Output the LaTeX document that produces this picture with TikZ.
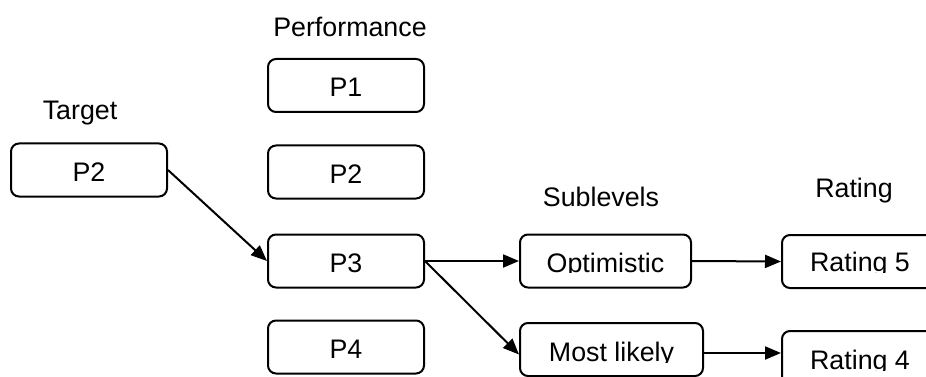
\documentclass[tikz,border=0pt]{standalone}
\usepackage{fontspec}
\setmainfont{Liberation Sans}
\usetikzlibrary{arrows.meta}
\begin{document}
\begin{tikzpicture}[x=1pt,y=-1pt,
  box/.style={draw,line width=2pt,rounded corners=8pt,minimum width=156pt,minimum height=53pt,inner sep=0pt},
  txt/.style={anchor=base,inner sep=0pt,font=\fontsize{26.8}{31}\selectfont},
  conn/.style={line width=2pt,-{Triangle[length=16pt,width=13pt]}}]
\useasboundingbox (0,0) rectangle (926,377);
\clip (0,0) rectangle (926,377);
% labels
\node[txt] (lt) at (80,120) {Target};
\node[txt] (lp) at (350,37) {Performance};
\node[txt] (ls) at (601,206) {Sublevels};
\node[txt] (lr) at (854,197) {Rating};
% boxes
\node[box] (tP2) at (89,170) {};
\node[box] (P1) at (346,85.5) {};
\node[box] (P2) at (346,172) {};
\node[box] (P3) at (346,261) {};
\node[box] (P4) at (346,347) {};
\node[box,minimum width=171pt] (Opt) at (605.5,261) {};
\node[box,minimum width=183pt] (ML) at (611.5,349.5) {};
\node[box] (R5) at (860,261.5) {};
\node[box] (R4) at (860,357.5) {};
% texts
\node[txt] (ttP2) at ([yshift=-39pt]tP2.north) {P2};
\node[txt] (tP1) at ([yshift=-39pt]P1.north) {P1};
\node[txt] (tPP2) at ([yshift=-39pt]P2.north) {P2};
\node[txt] (tP3) at ([yshift=-39pt]P3.north) {P3};
\node[txt] (tP4) at ([yshift=-39pt]P4.north) {P4};
\begin{scope}
\clip (500,200) rectangle (926,272.5);
\node[txt] (tOpt) at ([yshift=-39pt]Opt.north) {Optimistic};
\node[txt] (tR5) at ([yshift=-37pt]R5.north) {Rating 5};
\end{scope}
\begin{scope}
\clip (500,300) rectangle (760,362.5);
\node[txt] (tML) at ([yshift=-39pt]ML.north) {Most likely};
\end{scope}
\begin{scope}
\clip (760,300) rectangle (926,370.5);
\node[txt] (tR4) at ([yshift=-39pt]R4.north) {Rating 4};
\end{scope}
% connectors
\draw[conn] (tP2.east) -- (P3.west);
\draw[conn] (P3.east) -- (Opt.west);
\draw[conn] (P3.east) -- ([yshift=-5pt]ML.west);
\draw[conn] (Opt.east) -- (R5.west);
\draw[conn] ([yshift=-3.5pt]ML.east) -- ([yshift=4.5pt]R4.west);
\end{tikzpicture}
\end{document}
